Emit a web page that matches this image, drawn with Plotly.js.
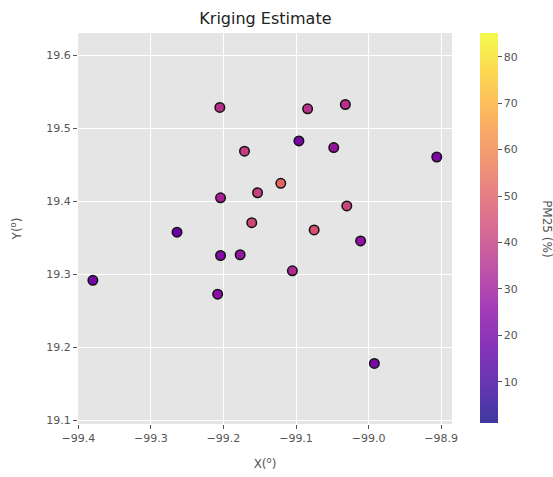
<!DOCTYPE html>
<html>
<head>
<meta charset="utf-8">
<script src="https://cdn.plot.ly/plotly-3.0.1.min.js"></script>
<style>html,body{margin:0;padding:0;background:#fff;}#chart{width:553px;height:477px;}</style>
</head>
<body>
<div id="chart"></div>
<script>
const lon = [-99.205, -99.084, -99.032, -99.096, -99.171, -99.048, -98.906, -99.121, -99.153, -99.204,
             -99.030, -99.264, -99.161, -99.075, -99.011, -99.204, -99.177, -99.105, -99.380, -99.208, -98.992];
const lat = [19.529, 19.527, 19.533, 19.483, 19.469, 19.474, 19.461, 19.425, 19.412, 19.405,
             19.394, 19.358, 19.371, 19.361, 19.346, 19.326, 19.327, 19.305, 19.292, 19.273, 19.178];
const pm25 = [36, 37, 36, 21, 40, 28, 22, 52, 41, 32,
              42, 18, 43, 46, 27, 24, 28, 34, 21, 26, 21];
const cRange = [1, 85];
const cbTicks = [10, 20, 30, 40, 50, 60, 70, 80];

const plasmaHex = ['#0d0887','#41049d','#6a00a8','#8f0da4','#b12a90','#cc4778','#e16462','#f2844b','#fca636','#fcce25','#f0f921'];
function scaleWithAlpha(a) {
  return plasmaHex.map((h, i) => {
    const r = parseInt(h.slice(1,3),16), g = parseInt(h.slice(3,5),16), b = parseInt(h.slice(5,7),16);
    return [i/(plasmaHex.length-1), `rgba(${r},${g},${b},${a})`];
  });
}

const fontFam = 'DejaVu Sans, sans-serif';
const points = {
  type: 'scatter', mode: 'markers', x: lon, y: lat,
  marker: {
    color: pm25, cmin: cRange[0], cmax: cRange[1], colorscale: scaleWithAlpha(1),
    size: 9.5, line: {color: '#111', width: 1.5}, showscale: false
  },
  hoverinfo: 'x+y'
};
// colour bar only (no marks): the reference bar is drawn with a faded plasma map
const bar = {
  type: 'scatter', mode: 'markers', x: [null], y: [null], hoverinfo: 'skip',
  marker: {
    color: [cRange[0]], cmin: cRange[0], cmax: cRange[1], colorscale: scaleWithAlpha(0.8),
    showscale: true,
    colorbar: {
      x: 1.075, xanchor: 'left', y: 0.5, yanchor: 'middle', len: 0.998, lenmode: 'fraction',
      thickness: 18, outlinewidth: 0, ticks: 'outside', ticklen: 4, tickcolor: '#555',
      tickvals: cbTicks, tickfont: {size: 11, color: '#555', family: fontFam}, xpad: 0, ypad: 0
    }
  }
};
const axisCommon = {
  showgrid: true, gridcolor: '#ffffff', gridwidth: 1, zeroline: false, showline: false,
  ticks: 'outside', ticklen: 4, tickcolor: '#555', tickfont: {size: 11, color: '#555', family: fontFam},
  dtick: 0.1, tickformat: '.1f'
};
const layout = {
  width: 553, height: 477,
  margin: {l: 78, r: 101, t: 33, b: 53},
  paper_bgcolor: '#ffffff', plot_bgcolor: '#e5e5e5',
  font: {family: fontFam, color: '#555'},
  title: {text: 'Kriging Estimate', font: {size: 16, color: '#222', family: fontFam}, x: 0.48, xanchor: 'center', y: 0.962, yanchor: 'middle'},
  xaxis: Object.assign({}, axisCommon, {range: [-99.4005, -98.885], tick0: -99.4,
    title: {text: 'X(<sup>o</sup>)', font: {size: 12, color: '#555', family: fontFam}, standoff: 15}}),
  yaxis: Object.assign({}, axisCommon, {range: [19.095, 19.631], tick0: 19.1,
    title: {text: 'Y(<sup>o</sup>)', font: {size: 12, color: '#555', family: fontFam}, standoff: 22}}),
  annotations: [{
    text: 'PM25 (%)', xref: 'paper', yref: 'paper', x: 1.255, y: 0.5, xanchor: 'center', yanchor: 'middle',
    textangle: 90, showarrow: false, font: {size: 12, color: '#555', family: fontFam}
  }],
  showlegend: false
};
Plotly.newPlot('chart', [points, bar], layout, {displayModeBar: false, staticPlot: true});
</script>
</body>
</html>
